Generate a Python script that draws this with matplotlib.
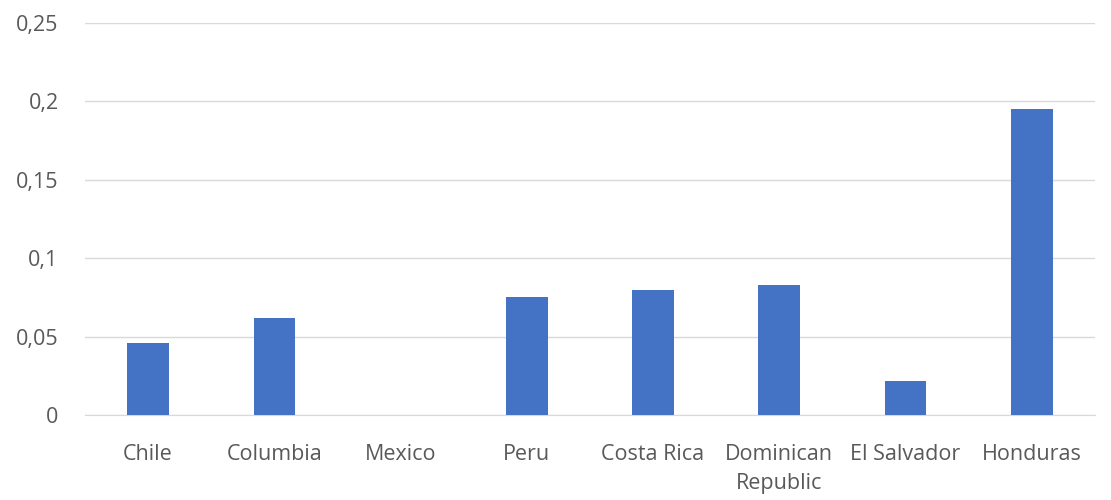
import matplotlib
matplotlib.use("Agg")
import matplotlib.pyplot as plt

categories = ["Chile", "Columbia", "Mexico", "Peru", "Costa Rica", "Dominican\nRepublic", "El Salvador", "Honduras"]
values = [0.046, 0.062, 0.0, 0.075, 0.080, 0.083, 0.022, 0.195]
yticks = [0, 0.05, 0.1, 0.15, 0.2, 0.25]
ytick_labels = ["0", "0,05", "0,1", "0,15", "0,2", "0,25"]

plt.rcParams['font.family'] = ['Open Sans', 'DejaVu Sans']
fig = plt.figure(figsize=(11.11, 5.0), dpi=100)
ax = fig.add_axes([0.0765, 0.17, 0.909, 0.784])
x = list(range(len(categories)))
ax.bar(x, values, width=0.33, color="#4472C4", zorder=3)
ax.set_xlim(-0.5, len(categories) - 0.5)
ax.set_ylim(0, 0.25)
ax.set_yticks(yticks)
ax.set_yticklabels(ytick_labels)
ax.set_xticks(x)
ax.set_xticklabels(categories, linespacing=1.5)
ax.grid(axis="y", color="#D9D9D9", linewidth=1, zorder=0)
for s in ["top", "right", "left"]:
    ax.spines[s].set_visible(False)
ax.spines["bottom"].set_color("#D9D9D9")
ax.tick_params(axis="both", length=0, labelsize=15.5, colors="#595959")
ax.tick_params(axis="y", pad=19)
ax.tick_params(axis="x", pad=21)
fig.savefig("out.png", dpi=100)
